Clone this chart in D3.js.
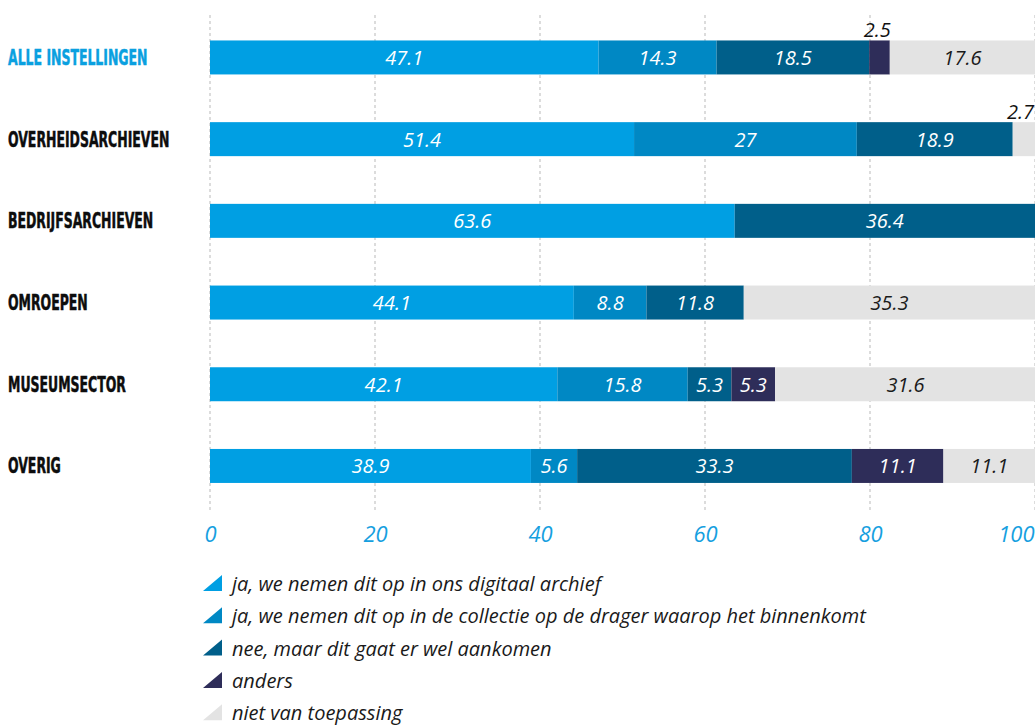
<!DOCTYPE html>
<html>
<head>
<meta charset="utf-8">
<script src="https://cdn.jsdelivr.net/npm/d3@7"></script>
<style>
  html, body { margin: 0; padding: 0; background: #fff; }
  svg { display: block; }
</style>
</head>
<body>
<svg id="chart" width="1035" height="727"></svg>
<script>
// Categories (rows) and the five answer series, in stacking order
const categories = ["ALLE INSTELLINGEN", "OVERHEIDSARCHIEVEN", "BEDRIJFSARCHIEVEN", "OMROEPEN", "MUSEUMSECTOR", "OVERIG"];
const seriesNames = [
  "ja, we nemen dit op in ons digitaal archief",
  "ja, we nemen dit op in de collectie op de drager waarop het binnenkomt",
  "nee, maar dit gaat er wel aankomen",
  "anders",
  "niet van toepassing"
];
const digitaalArchief   = [47.1, 51.4, 63.6, 44.1, 42.1, 38.9];
const collectieDrager   = [14.3, 27,   0,    8.8,  15.8, 5.6];
const gaatAankomen      = [18.5, 18.9, 36.4, 11.8, 5.3,  33.3];
const anders            = [2.5,  0,    0,    0,    5.3,  11.1];
const nietVanToepassing = [17.6, 2.7,  0,    35.3, 31.6, 11.1];
const tickValues = [0, 20, 40, 60, 80, 100];

const seriesColors = ["#009fe3", "#0088c4", "#005f8a", "#2e2d59", "#e3e3e3"];
const labelColors  = ["#ffffff", "#ffffff", "#ffffff", "#ffffff", "#1a1a1a"];

const svg = d3.select("#chart");

const keys = ["s0", "s1", "s2", "s3", "s4"];
const table = categories.map((c, i) => ({
  cat: c,
  s0: digitaalArchief[i], s1: collectieDrager[i], s2: gaatAankomen[i],
  s3: anders[i], s4: nietVanToepassing[i]
}));
const stacked = d3.stack().keys(keys)(table);

const x = d3.scaleLinear().domain([0, 100]).range([210, 1035]);
const y = d3.scaleBand().domain(categories).range([16.6, 506.8])
  .paddingInner(0.584).paddingOuter(0.292);

// dashed vertical grid
svg.append("g").selectAll("line").data(tickValues).join("line")
  .attr("x1", d => x(d)).attr("x2", d => x(d))
  .attr("y1", 15).attr("y2", 510)
  .attr("stroke", "#b9b9b9").attr("stroke-width", 1)
  .attr("stroke-dasharray", "3,3");

// stacked bars
const layers = svg.append("g").selectAll("g").data(stacked).join("g")
  .attr("fill", (d, i) => seriesColors[i]);
layers.selectAll("rect").data(d => d.map(p => ({ p, cat: p.data.cat })))
  .join("rect")
  .attr("x", d => x(d.p[0]))
  .attr("width", d => x(d.p[1]) - x(d.p[0]))
  .attr("y", d => y(d.cat))
  .attr("height", y.bandwidth());

// value labels: inside the segment, or above its right end when the segment is narrow
const valueFont = "'Open Sans', 'DejaVu Sans', sans-serif";
stacked.forEach((layer, si) => {
  layer.forEach(p => {
    const v = p[1] - p[0];
    if (v <= 0) return;
    const small = v < 3;
    const cx = (x(p[0]) + x(p[1])) / 2;
    const top = y(p.data.cat);
    const t = svg.append("text")
      .attr("font-family", valueFont)
      .attr("font-style", "italic")
      .attr("font-size", 20)
      .text(d3.format("~g")(v));
    if (small) {
      t.attr("x", Math.min(x(p[1]) + 1, 1034)).attr("y", top - 3)
        .attr("text-anchor", "end").attr("fill", "#111");
    } else {
      t.attr("x", cx).attr("y", top + y.bandwidth() / 2 + 7.5)
        .attr("text-anchor", "middle").attr("fill", labelColors[si]);
    }
  });
});

// category labels
const catFont = "'Liberation Sans Narrow', 'DejaVu Sans Condensed', sans-serif";
svg.append("g").selectAll("text").data(categories).join("text")
  .attr("transform", d => `translate(8,${y(d) + y.bandwidth() / 2 + 7.5}) scale(0.66,1)`)
  .attr("font-family", catFont)
  .attr("font-weight", "bold")
  .attr("font-size", 21)
  .attr("fill", (d, i) => i === 0 ? "#0aa0e0" : "#0d0d0d")
  .attr("stroke", (d, i) => i === 0 ? "#0aa0e0" : "#0d0d0d")
  .attr("stroke-width", 0.5)
  .text(d => d);

// x axis tick labels
const xAxis = d3.axisBottom(x).tickValues(tickValues).tickSize(0).tickPadding(0);
const axisG = svg.append("g").attr("transform", "translate(0,542)").call(xAxis);
axisG.select(".domain").remove();
axisG.selectAll("text")
  .attr("font-family", valueFont)
  .attr("font-style", "italic")
  .attr("font-size", 22)
  .attr("fill", "#169fdf")
  .attr("dy", 0)
  .attr("text-anchor", d => d === 100 ? "end" : "middle")
  .attr("x", d => d === 100 ? 1034 - x(d) : 0);

// legend
const legend = svg.append("g").selectAll("g").data(seriesNames).join("g")
  .attr("transform", (d, i) => `translate(0,${591 + i * 32.3})`);
legend.append("path")
  .attr("d", "M203,0 L222,0 L222,-16 Z")
  .attr("fill", (d, i) => seriesColors[i]);
legend.append("text")
  .attr("x", 232)
  .attr("font-family", valueFont)
  .attr("font-style", "italic")
  .attr("font-size", 20)
  .attr("fill", "#1a1a1a")
  .text(d => d);
</script>
</body>
</html>
